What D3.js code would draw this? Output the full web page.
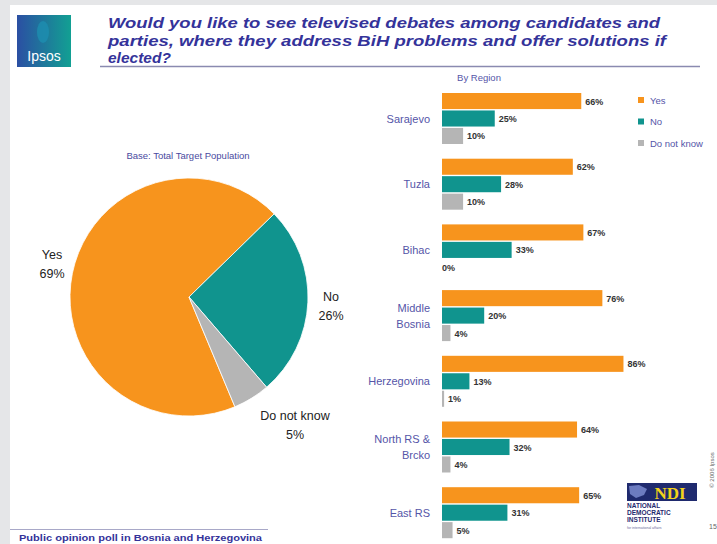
<!DOCTYPE html>
<html><head><meta charset="utf-8">
<script src="https://cdn.jsdelivr.net/npm/d3@7"></script>
<style>html,body{margin:0;padding:0;background:#e5e6e8;}svg{display:block;font-family:"Liberation Sans",Arial,sans-serif;}</style>
</head><body><svg id="c" width="717" height="544"></svg>
<script>
const titleLines = ["Would you like to see televised debates among candidates and","parties, where they address BiH problems and offer solutions if","elected?"];
const pieLabels = ["Yes","No","Do not know"];
const pieValues = [69,26,5];
const regions = [["Sarajevo"],["Tuzla"],["Bihac"],["Middle","Bosnia"],["Herzegovina"],["North RS &","Brcko"],["East RS"]];
const series = ["Yes","No","Do not know"];
const yesVals = [66,62,67,76,86,64,65];
const noVals  = [25,28,33,20,13,32,31];
const dkVals  = [10,10,0,4,1,4,5];
const colors = ["#f7941d","#10948e","#b5b5b5"];

const svg = d3.select("#c");
svg.append("rect").attr("x",10).attr("y",5).attr("width",707).attr("height",539).attr("fill","#fff");

// Logo
const defs = svg.append("defs");
const lg = defs.append("linearGradient").attr("id","lg").attr("x1","0").attr("x2","1").attr("y1","0").attr("y2","0");
lg.append("stop").attr("offset","0").attr("stop-color","#2b4fa3");
lg.append("stop").attr("offset","1").attr("stop-color","#12a093");
svg.append("rect").attr("x",17).attr("y",15).attr("width",54).attr("height",52).attr("fill","url(#lg)");
svg.append("ellipse").attr("cx",43).attr("cy",32).attr("rx",6).attr("ry",11).attr("fill","#1d8fb0").attr("opacity",0.8);
svg.append("text").attr("x",44).attr("y",61).attr("text-anchor","middle").attr("fill","#fff").attr("font-size",14).text("Ipsos");

// Title
const tc = "#34339a";
titleLines.forEach((t,i)=>{
  const el = svg.append("text").attr("x",108).attr("y",28+i*17.5).attr("fill",tc)
    .attr("font-size",15.5).attr("font-weight","bold").attr("font-style","italic").text(t);
  if(i===0) el.attr("textLength",552).attr("lengthAdjust","spacingAndGlyphs");
  if(i===1) el.attr("textLength",558).attr("lengthAdjust","spacingAndGlyphs");
});
svg.append("line").attr("x1",100).attr("x2",700).attr("y1",66.5).attr("y2",66.5).attr("stroke","#8a8ab0").attr("stroke-width",1.5);

// Pie
const cx=189, cy=297, R=119;
const start = 157.3*Math.PI/180;
const pie = d3.pie().sort(null).startAngle(start).endAngle(start+2*Math.PI)(pieValues);
const arc = d3.arc().innerRadius(0).outerRadius(R);
const pg = svg.append("g").attr("transform",`translate(${cx},${cy})`);
pg.selectAll("path").data(pie).join("path").attr("d",arc).attr("fill",(d,i)=>colors[i]).attr("stroke","#fff").attr("stroke-width",0.8);
svg.append("text").attr("x",188).attr("y",159).attr("text-anchor","middle").attr("fill","#4a4aa0").attr("font-size",9.5).text("Base: Total Target Population");
const pieLabPos = [[52,259],[331,301],[295,420]];
pieLabPos.forEach((p,i)=>{
  const t = svg.append("text").attr("text-anchor","middle").attr("fill","#222").attr("font-size",12.5);
  t.append("tspan").attr("x",p[0]).attr("y",p[1]).text(pieLabels[i]);
  t.append("tspan").attr("x",p[0]).attr("y",p[1]+19).text(pieValues[i]+"%");
});

// Bars
const x = d3.scaleLinear().domain([0,100]).range([442,653]);
const y = d3.scaleBand().domain(d3.range(regions.length)).range([93,93+7*65.7]).paddingInner(0).paddingOuter(0);
const ys = d3.scaleBand().domain(series).range([0,51]).paddingInner(0.08);
const vals = [yesVals,noVals,dkVals];
const bg = svg.append("g");
regions.forEach((r,ri)=>{
  series.forEach((s,si)=>{
    const v = vals[si][ri];
    const yy = y(ri)+ys(s);
    bg.append("rect").attr("x",x(0)).attr("y",yy).attr("width",x(v)-x(0)).attr("height",ys.bandwidth()).attr("fill",colors[si]);
    bg.append("text").attr("x",x(v)+(v===0?0:4)).attr("y",yy+ys.bandwidth()/2+3.5).attr("font-size",9).attr("font-weight","bold").attr("fill","#333").text(v+"%");
  });
  const mid = y(ri)+ys("No")+ys.bandwidth()/2;
  const t = bg.append("text").attr("text-anchor","end").attr("fill","#5555a8").attr("font-size",11);
  r.forEach((line,li)=>{
    t.append("tspan").attr("x",430).attr("y",mid+4+(li-(r.length-1)/2)*16).text(line);
  });
});
svg.append("text").attr("x",479).attr("y",81).attr("text-anchor","middle").attr("fill","#5555a8").attr("font-size",9.5).text("By Region");

// Legend
series.forEach((s,i)=>{
  svg.append("rect").attr("x",638).attr("y",97+i*21.5).attr("width",6).attr("height",6).attr("fill",colors[i]);
  svg.append("text").attr("x",650).attr("y",103.5+i*21.5).attr("fill","#5555a8").attr("font-size",9.5).text(s);
});

// NDI logo
svg.append("rect").attr("x",627).attr("y",483).attr("width",70).attr("height",18).attr("fill","#1f2a6e");
svg.append("text").attr("x",670).attr("y",499).attr("text-anchor","middle").attr("fill","#f2d21b").attr("font-size",17).attr("font-weight","bold").attr("font-family","Liberation Serif, serif").text("NDI");
svg.append("path").attr("d","M629,486 l10,-1 l8,4 l-3,6 l-8,3 l-6,-4z").attr("fill","#6c7bc0");
["NATIONAL","DEMOCRATIC","INSTITUTE"].forEach((t,i)=>{
  svg.append("text").attr("x",627).attr("y",508+i*7).attr("fill","#1f2a6e").attr("font-size",6.5).attr("font-weight","bold").text(t);
});
svg.append("text").attr("x",627).attr("y",529).attr("fill","#6a6a9a").attr("font-size",3.5).text("for international affairs");

svg.append("text").attr("transform","translate(714,470) rotate(-90)").attr("text-anchor","middle").attr("fill","#666").attr("font-size",6).text("© 2006 Ipsos");
svg.append("text").attr("x",709).attr("y",529).attr("fill","#666").attr("font-size",7).text("15");

// Footer
svg.append("line").attr("x1",10).attr("x2",268).attr("y1",529.5).attr("y2",529.5).attr("stroke","#a8a8c8").attr("stroke-width",1);
svg.append("text").attr("x",19).attr("y",541).attr("fill","#34339a").attr("font-size",9).attr("font-weight","bold").attr("textLength",243).attr("lengthAdjust","spacingAndGlyphs").text("Public opinion poll in Bosnia and Herzegovina");
</script></body></html>
